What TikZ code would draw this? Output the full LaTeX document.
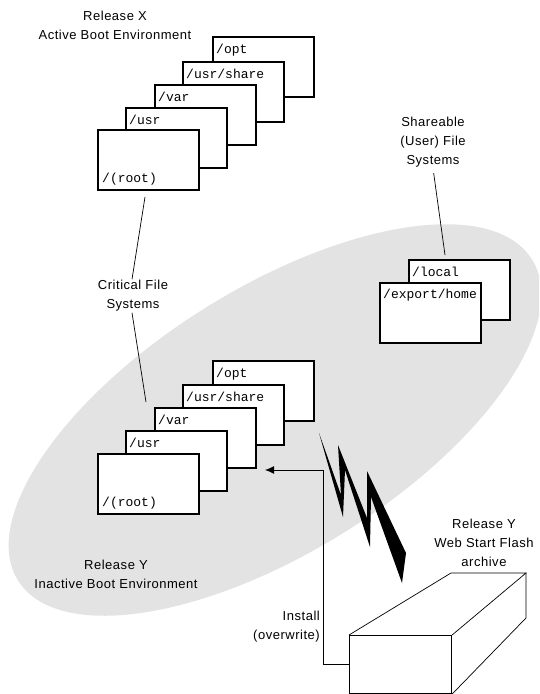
\documentclass[tikz,border=0pt]{standalone}
\usepackage{fontspec}
\setmainfont{Liberation Sans}[LetterSpace=4]
\newfontfamily\fsmono{Liberation Mono}
\usetikzlibrary{arrows.meta,calc}
\definecolor{blobgray}{RGB}{227,227,227}
\begin{document}
\begin{tikzpicture}[x=1pt,y=-1pt,
  fsbox/.style={draw, line width=1.1pt, fill=white, minimum width=101pt, minimum height=60pt, anchor=north west, inner sep=0pt, outer sep=0pt},
  fslabel/.style={font={\fsmono\fontsize{13}{15}\selectfont}, anchor=base west, inner sep=0pt},
  caption/.style={font={\fontsize{13}{19}\selectfont}, align=center, inner sep=1pt},
  leader/.style={line width=0.7pt},
  bolt/.style={fill=black},
  install/.style={line width=1pt, -{Latex[length=9pt,width=8pt]}}]
\useasboundingbox (0,0) rectangle (539,694);
% grey region
\begin{scope}
\clip (0,0) rectangle (539,694);
\fill[blobgray, rotate around={32:(275,420)}] (275,420) ellipse [x radius=303pt, y radius=132pt];
\end{scope}

% top stack (Release X)
\node[fsbox] (tOpt) at (213,37) {};
\node[fslabel] (tOptL) at ($(tOpt.north west)+(3,16)$) {/opt};
\node[fsbox] (tShare) at (183,62) {};
\node[fslabel] (tShareL) at ($(tShare.north west)+(3,16)$) {/usr/share};
\node[fsbox] (tVar) at (155,85) {};
\node[fslabel] (tVarL) at ($(tVar.north west)+(3,16)$) {/var};
\node[fsbox] (tUsr) at (126,108) {};
\node[fslabel] (tUsrL) at ($(tUsr.north west)+(3,16)$) {/usr};
\node[fsbox] (tRoot) at (98,130) {};
\node[fslabel] (tRootL) at ($(tRoot.south west)+(4,-8)$) {/(root)};

% bottom stack (Release Y)
\node[fsbox] (bOpt) at (213,361) {};
\node[fslabel] (bOptL) at ($(bOpt.north west)+(3,16)$) {/opt};
\node[fsbox] (bShare) at (183,385) {};
\node[fslabel] (bShareL) at ($(bShare.north west)+(3,16)$) {/usr/share};
\node[fsbox] (bVar) at (155,408) {};
\node[fslabel] (bVarL) at ($(bVar.north west)+(3,16)$) {/var};
\node[fsbox] (bUsr) at (126,431) {};
\node[fslabel] (bUsrL) at ($(bUsr.north west)+(3,16)$) {/usr};
\node[fsbox] (bRoot) at (98,454) {};
\node[fslabel] (bRootL) at ($(bRoot.south west)+(4,-8)$) {/(root)};

% shareable file systems
\node[fsbox] (local) at (409,260) {};
\node[fslabel] (localL) at ($(local.north west)+(3,16)$) {/local};
\node[fsbox] (export) at (380,283) {};
\node[fslabel] (exportL) at ($(export.north west)+(3,15)$) {/export/home};

% captions
\node[caption] (relX) at (115,25) {Release X\\Active Boot Environment};
\node[caption] (share) at (433,142) {Shareable\\(User) File\\Systems};
\node[caption] (crit) at (133,296) {Critical File\\Systems};
\node[caption] (relYi) at (116,574) {Release Y\\Inactive Boot Environment};
\node[caption] (relYw) at (484,543) {Release Y\\Web Start Flash\\archive};
\node[caption, align=right, anchor=east] (inst) at (321,627) {Install\\(overwrite)};

% leader lines
\coordinate (critTop) at (145,197);
\coordinate (critBot) at (146,402);
\coordinate (shareEnd) at (445,255);
\draw[leader] ($(crit.north)+(-1,0)$) -- (critTop);
\draw[leader] ($(crit.south)+(-1,0)$) -- (critBot);
\draw[leader, shorten <=5pt] (share.south) -- (shareEnd);

% flash archive box
\node[draw, line width=1.1pt, fill=white, minimum width=102pt, minimum height=58pt, anchor=north west, inner sep=0pt] (flash) at (349,635) {};
\coordinate (bTL) at (451,573);
\coordinate (bTR) at (526,573);
\coordinate (bBR) at (526,618);
\draw[leader] (flash.north west) -- (bTL) -- (bTR) -- (flash.north east);
\draw[leader] (bTR) -- (bBR) -- (flash.south east);

% install arrow
\coordinate (bend) at (323,470);
\coordinate (instTip) at (265,470);
\draw[install] (flash.west) -| (bend) -- (instTip);

% lightning bolt
\fill[bolt] (319,433) -- (343,517) -- (345,470) -- (370,547) -- (371,497) -- (402,583)
  -- (406,553) -- (367,471) -- (367,518) -- (338,445) -- (341,495) -- cycle;
\end{tikzpicture}
\end{document}
